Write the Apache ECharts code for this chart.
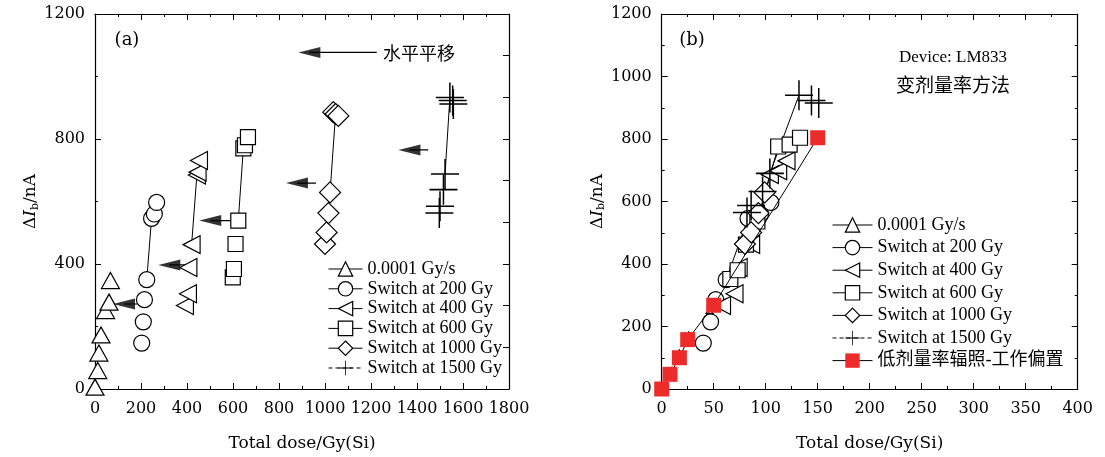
<!DOCTYPE html>
<html>
<head>
<meta charset="utf-8">
<script src="https://cdn.jsdelivr.net/npm/echarts@6/dist/echarts.min.js"></script>
<style>html,body{margin:0;padding:0;background:#fff;}#c{width:1105px;height:457px;}</style>
</head>
<body>
<div id="c"></div>
<script>
// ---------- names ----------
const seriesNames = ['0.0001 Gy/s','Switch at 200 Gy','Switch at 400 Gy','Switch at 600 Gy','Switch at 1000 Gy','Switch at 1500 Gy'];
const redName = '低剂量率辐照-工作偏置';

// ---------- panel (a) data [dose Gy, ΔIb nA] ----------
const aLowRate = [[0,6],[12,59],[17,115],[26,173],[46,251],[61,278],[67,347]];
const aSw200  = [[203,147],[210,215],[215,286],[225,350],[246,546],[258,560],[268,597]];
const aSw400  = [[391,267],[404,305],[406,389],[420,462],[443,685],[446,694],[452,731]];
const aSw600  = [[599,357],[604,384],[611,464],[623,539],[645,770],[652,780],[665,806]];
const aSw1000 = [[1000,464],[1007,501],[1015,563],[1022,629],[1036,886],[1046,880],[1058,874]];
const aSw1500 = [[1497,563],[1500,585],[1515,638],[1522,688],[1543,933],[1555,923],[1558,912]];
// connector pairs (index of end of first stage, index of start of second stage)
const aLinks = [null,[3,4],[3,4],[3,4],[3,5],[3,4]];
// shift arrows: [y, x of head centre, x of tail]
const aArrows = [[272,126,217],[397,323,420],[539,501,594],[659,878,961],[765,1367,1449],[1077,932,1225]];

// ---------- panel (b) data ----------
const bLowRate = [[0,6],[10,59],[17,115],[26,173],[46,251],[61,278],[67,347]];
const bSw200  = [[40,147],[47,215],[52,286],[62,350],[83,546],[95,560],[105,597]];
const bSw400  = [[58,267],[70,305],[74,389],[86,462],[104,686],[112,698],[120,730]];
const bSw600  = [[66,352],[73,380],[81,462],[92,536],[112,776],[123,782],[133,804]];
const bSw1000 = [[80,464],[86,501],[93,563],[99,629]];
const bSw1500 = [[82,565],[86,587],[97,632],[104,690],[132,940],[144,923],[151,915]];
const bRed    = [[0,0],[8,47],[17,100],[25,158],[50,268],[150,804]];
const bLinks = [null,[3,4],[3,4],[3,4],null,[3,4]];

// ---------- styles ----------
const SERIF = "'DejaVu Serif', serif";
const TIMES = "'Liberation Serif', 'Noto Sans CJK SC', serif";
const PLUS = 'path://M-0.8,-15H0.8V-0.8H15V0.8H0.8V15H-0.8V0.8H-15V-0.8H-0.8Z';
const markers = [
  {symbol:'triangle', size:[18,16], rot:0},
  {symbol:'circle', size:16, rot:0},
  {symbol:'triangle', size:[18,17], rot:90},
  {symbol:'rect', size:15, rot:0},
  {symbol:'diamond', size:[21,21], rot:0},
  {symbol:PLUS, size:[28,30], rot:0}
];

function gapped(pts){ const out=[]; pts.forEach((p,i)=>{ if(i) out.push(['-','-']); out.push(p); }); return out; }

function markerSeries(name, pts, m, xi, yi, sizeOverride){
  const isPlus = m.symbol === PLUS;
  return {
    name, type:'line', xAxisIndex:xi, yAxisIndex:yi, data:gapped(pts),
    symbol:m.symbol, symbolSize: sizeOverride || m.size, symbolRotate:m.rot, symbolKeepAspect:false,
    showSymbol:true, connectNulls:false, clip:false, z:5, silent:true, animation:false,
    itemStyle:{color: isPlus ? '#000' : '#fff', borderColor:'#000', borderWidth: isPlus ? 0 : 1.2, opacity:1},
    lineStyle:{color:'#000', width:1},
    emphasis:{disabled:true}
  };
}
function linkSeries(pts, link, xi, yi){
  return {type:'line', xAxisIndex:xi, yAxisIndex:yi, data:[pts[link[0]], pts[link[1]]],
    symbol:'none', clip:false, z:3, silent:true, animation:false,
    lineStyle:{color:'#000', width:1}, emphasis:{disabled:true}};
}

const aData = [aLowRate,aSw200,aSw400,aSw600,aSw1000,aSw1500];
const bData = [bLowRate,bSw200,bSw400,bSw600,bSw1000,bSw1500];
const series = [];
aData.forEach((pts,i)=>{
  if(aLinks[i]) series.push(linkSeries(pts,aLinks[i],0,0));
  series.push(markerSeries(seriesNames[i], pts, markers[i], 0, 0));
});
bData.forEach((pts,i)=>{
  if(bLinks[i]) series.push(linkSeries(pts,bLinks[i],2,2));
  series.push(markerSeries(seriesNames[i], pts, markers[i], 2, 2, i===0 ? [7,6] : null));
});
series.push({
  name:redName, type:'line', xAxisIndex:2, yAxisIndex:2, data:bRed,
  symbol:'rect', symbolSize:15, clip:false, z:6, silent:true, animation:false,
  itemStyle:{color:'#ed2b2b', borderWidth:0}, lineStyle:{color:'#000', width:1}, emphasis:{disabled:true}
});
// arrow shafts (panel a)
const shaftData = [];
aArrows.forEach((a,i)=>{ if(i) shaftData.push(['-','-']); shaftData.push([a[1],a[0]]); shaftData.push([a[2],a[0]]); });
series.push({
  type:'line', xAxisIndex:0, yAxisIndex:0, symbol:'none', clip:false, silent:true, animation:false, z:4,
  data: shaftData, lineStyle:{color:'#000', width:1.2}, emphasis:{disabled:true}
});
// arrow heads (panel a), pointing left
series.push({
  type:'scatter', xAxisIndex:0, yAxisIndex:0, data: aArrows.map(a=>[a[1],a[0]]),
  symbol:'triangle', symbolSize:[11,22], symbolRotate:90, clip:false, silent:true, animation:false, z:5,
  itemStyle:{color:'#000', borderWidth:0}, emphasis:{disabled:true}
});

const axisLine = {show:true, onZero:false, lineStyle:{color:'#000', width:1.2}};
const plainNum = v => String(Math.round(v));
function xAx(grid, max, interval, pos, labels, name){
  return {
    gridIndex:grid, type:'value', min:0, max, interval, position:pos,
    axisLine, axisTick:{show:true, inside:true, length:6, lineStyle:{color:'#000', width:1}},
    minorTick:{show:true, splitNumber:2, length:3, lineStyle:{color:'#000', width:1}},
    splitLine:{show:false}, minorSplitLine:{show:false},
    axisLabel:{show:labels, formatter:plainNum, fontFamily:SERIF, fontSize:16, color:'#000', margin:12, showMinLabel:true, showMaxLabel:true},
    name: labels ? name : '', nameLocation:'middle', nameGap:46,
    nameTextStyle:{fontFamily:SERIF, fontSize:17, color:'#000'}
  };
}
const yName = '{d|Δ}{i|I}{s|b}{n|/nA}';
const yRich = {
  d:{fontFamily:SERIF, fontSize:17, color:'#000'},
  i:{fontFamily:SERIF, fontSize:17, fontStyle:'italic', color:'#000'},
  s:{fontFamily:SERIF, fontSize:11, color:'#000', padding:[8,0,0,0]},
  n:{fontFamily:SERIF, fontSize:17, color:'#000'}
};
function yAx(grid, interval, pos, labels, minorSplit){
  return {
    gridIndex:grid, type:'value', min:0, max:1200, interval, position:pos,
    axisLine, axisTick:{show:true, inside:true, length:6, lineStyle:{color:'#000', width:1}},
    minorTick:{show: minorSplit>1, splitNumber:minorSplit, length:3, lineStyle:{color:'#000', width:1}},
    splitLine:{show:false}, minorSplitLine:{show:false},
    axisLabel:{show:labels, formatter:plainNum, fontFamily:SERIF, fontSize:16, color:'#000', margin:10, showMinLabel:true, showMaxLabel:true},
    name: labels ? yName : '', nameLocation:'middle', nameGap:50, nameRotate:90,
    nameTextStyle:{rich:yRich}
  };
}

const legendBase = {
  orient:'vertical', itemHeight:18, selectedMode:false,
  textStyle:{fontFamily:TIMES, fontSize:18, color:'#000'},
  inactiveColor:'#000',
  itemStyle:{color:'#fff', borderColor:'#000', borderWidth:1.2},
  lineStyle:{color:'#000', width:1}
};
function legendItems(withRed){
  const items = seriesNames.map((n,i)=> i===5
    ? {name:n, itemStyle:{color:'#000', borderWidth:0}, lineStyle:{type:[4,3], color:'#000', width:1}}
    : {name:n});
  if(withRed) items.push({name:redName, itemStyle:{color:'#ed2b2b', borderWidth:0}});
  return items;
}

const option = {
  backgroundColor:'#fff',
  animation:false,
  grid:[
    {left:95, right:596, top:14, bottom:67.5},
    {left:661.7, right:27.3, top:14, bottom:67.5}
  ],
  xAxis:[
    xAx(0,1800,200,'bottom',true,'Total dose/Gy(Si)'),
    xAx(0,1800,200,'top',false,''),
    xAx(1,400,50,'bottom',true,'Total dose/Gy(Si)'),
    xAx(1,400,50,'top',false,'')
  ],
  yAxis:[
    yAx(0,400,'left',true,2),
    yAx(0,1200/9,'right',false,0),
    yAx(1,200,'left',true,2),
    yAx(1,200,'right',false,2)
  ],
  legend:[
    Object.assign({}, legendBase, {left:323, top:255, itemWidth:34, itemGap:1.8, data:legendItems(false)}),
    Object.assign({}, legendBase, {left:827, top:211, itemWidth:40, itemGap:4.6, data:legendItems(true)})
  ],
  graphic:[
    {type:'text', x:127, y:40, style:{text:'(a)', font:"18px 'DejaVu Serif'", fill:'#000', align:'center', verticalAlign:'middle'}},
    {type:'text', x:692, y:40, style:{text:'(b)', font:"18px 'DejaVu Serif'", fill:'#000', align:'center', verticalAlign:'middle'}},
    {type:'text', x:383, y:53, style:{text:'水平平移', font:"18px 'Noto Sans CJK SC'", fill:'#000', align:'left', verticalAlign:'middle'}},
    {type:'text', x:953, y:58, style:{text:'Device: LM833', font:"17px 'Liberation Serif'", fill:'#000', align:'center', verticalAlign:'middle'}},
    {type:'text', x:953, y:85, style:{text:'变剂量率方法', font:"19px 'Noto Sans CJK SC'", fill:'#000', align:'center', verticalAlign:'middle'}}
  ],
  series
};
const chart = echarts.init(document.getElementById('c'), null, {renderer:'canvas'});
chart.setOption(option);
</script>
</body>
</html>
